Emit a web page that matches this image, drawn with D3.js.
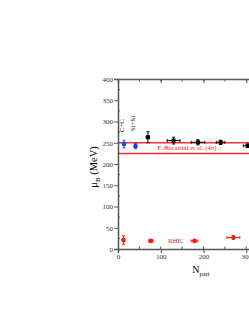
<!DOCTYPE html>
<html><head><meta charset="utf-8">
<script src="https://cdn.jsdelivr.net/npm/d3@7"></script>
<style>body{margin:0;background:#fff;}svg{display:block;}</style>
</head><body>
<svg id="c" width="249" height="323"></svg>
<script>
// Data
const blackN   = [70, 130, 187, 240, 303];
const blackMu  = [263, 255, 251, 251, 243];
const blackYe  = [13, 8, 6, 5, 4];
const blackXe  = [4, 15, 16, 10, 10];

const blueN    = [14, 41];
const blueMu   = [247, 242];
const blueYe   = [9, 6];

const rhicN    = [13, 77, 179, 270];
const rhicMu   = [21, 19, 19, 27];
const rhicYe   = [10, 3, 3, 4];
const rhicXe   = [2, 5, 8, 15];

const bandLevels = [250, 225];
const xTicks = [0, 100, 200, 300, 400];
const yTicks = [0, 50, 100, 150, 200, 250, 300, 350, 400];

const svg = d3.select("#c");
const x = d3.scaleLinear().domain([0, 400]).range([118, 289]);
const y = d3.scaleLinear().domain([0, 400]).range([249, 79]);
const axisCol = "#555";
const font = "Liberation Serif, Times New Roman, serif";

// band lines
svg.selectAll("line.band").data(bandLevels).enter().append("line")
  .attr("x1", x(0)).attr("x2", x(400))
  .attr("y1", d => y(d)).attr("y2", d => y(d))
  .attr("stroke", "#ff2a2a").attr("stroke-width", 1.5);

// axes
const gL = svg.append("g").attr("transform", `translate(${x(0)},0)`)
  .call(d3.axisLeft(y).tickValues(yTicks).tickSize(4).tickPadding(1));
const gB = svg.append("g").attr("transform", `translate(0,${y(0)})`)
  .call(d3.axisBottom(x).tickValues(xTicks).tickSize(4).tickPadding(1));
const gT = svg.append("g").attr("transform", `translate(0,${y(400)})`)
  .call(d3.axisTop(x).tickValues(xTicks).tickSize(-4).tickFormat(""));
[gL, gB, gT].forEach(g => {
  g.select(".domain").attr("stroke", axisCol).attr("stroke-width", 1.5);
  g.selectAll(".tick line").attr("stroke", axisCol);
  g.selectAll("text").attr("font-family", font).attr("font-size", 7).attr("fill", "#333");
});
// minor ticks inward
const minY = d3.range(25, 400, 50);
svg.selectAll("line.my").data(minY).enter().append("line")
  .attr("x1", x(0)).attr("x2", x(0) + 2).attr("y1", d => y(d)).attr("y2", d => y(d))
  .attr("stroke", axisCol);
const minX = d3.range(50, 400, 50);
svg.selectAll("line.mx").data(minX).enter().append("line")
  .attr("x1", d => x(d)).attr("x2", d => x(d)).attr("y1", y(0)).attr("y2", y(0) - 2.5)
  .attr("stroke", axisCol);
svg.selectAll("line.mt").data(minX).enter().append("line")
  .attr("x1", d => x(d)).attr("x2", d => x(d)).attr("y1", y(400)).attr("y2", y(400) + 2.5)
  .attr("stroke", axisCol);

// error bars helper
function errBars(N, Mu, Ye, Xe, col, dash) {
  const data = N.map((n, i) => ({n, m: Mu[i], ye: Ye[i], xe: Xe ? Xe[i] : 0}));
  const g = svg.append("g").attr("stroke", col).attr("stroke-width", 1);
  data.forEach(d => {
    g.append("line").attr("x1", x(d.n)).attr("x2", x(d.n))
      .attr("y1", y(d.m - d.ye)).attr("y2", y(d.m + d.ye)).attr("stroke-dasharray", dash || null);
    g.append("line").attr("x1", x(d.n) - 1.5).attr("x2", x(d.n) + 1.5)
      .attr("y1", y(d.m - d.ye)).attr("y2", y(d.m - d.ye));
    g.append("line").attr("x1", x(d.n) - 1.5).attr("x2", x(d.n) + 1.5)
      .attr("y1", y(d.m + d.ye)).attr("y2", y(d.m + d.ye));
    if (d.xe > 0) {
      g.append("line").attr("x1", x(d.n - d.xe)).attr("x2", x(d.n + d.xe))
        .attr("y1", y(d.m)).attr("y2", y(d.m));
      [d.n - d.xe, d.n + d.xe].forEach(v => g.append("line")
        .attr("x1", x(v)).attr("x2", x(v)).attr("y1", y(d.m) - 1.5).attr("y2", y(d.m) + 1.5));
    }
  });
  return data;
}

const bd = errBars(blackN, blackMu, blackYe, blackXe, "#000");
svg.selectAll("rect.bk").data(bd).enter().append("rect")
  .attr("x", d => x(d.n) - 2).attr("y", d => y(d.m) - 2).attr("width", 4).attr("height", 4)
  .attr("fill", "#000");

const bl = errBars(blueN, blueMu, blueYe, null, "#2244ff");
svg.selectAll("circle.bl").data(bl).enter().append("circle")
  .attr("cx", d => x(d.n)).attr("cy", d => y(d.m)).attr("r", 2.3).attr("fill", "#1a3cff");

const rd = errBars(rhicN, rhicMu, rhicYe, rhicXe, "#ff2020");
svg.selectAll("circle.rd").data(rd).enter().append("circle")
  .attr("cx", d => x(d.n)).attr("cy", d => y(d.m)).attr("r", 2.4).attr("fill", "#ff1a1a");

// annotations
svg.append("text").attr("x", 187).attr("y", 150).attr("text-anchor", "middle")
  .attr("font-family", font).attr("font-size", 6.8).attr("fill", "#ff2020")
  .text("F. Becattini et al. (4π)");
svg.append("text").attr("x", 176).attr("y", 243).attr("text-anchor", "middle")
  .attr("font-family", font).attr("font-size", 6.8).attr("fill", "#ff2020").text("RHIC");
svg.append("text").attr("transform", "translate(124,132) rotate(-90)")
  .attr("font-family", font).attr("font-size", 6.8).attr("fill", "#000").text("C+C");
svg.append("text").attr("transform", "translate(135,131) rotate(-90)")
  .attr("font-family", font).attr("font-size", 6.8).attr("fill", "#000").text("Si+Si");

// axis titles
const yl = svg.append("text").attr("transform", "translate(97,167) rotate(-90)")
  .attr("text-anchor", "middle").attr("font-family", font).attr("font-size", 10.5).attr("fill", "#000");
yl.append("tspan").text("μ");
yl.append("tspan").attr("font-size", 7).attr("dy", 2.5).text("B");
yl.append("tspan").attr("dy", -2.5).text(" (MeV)");

const xl = svg.append("text").attr("x", 201).attr("y", 273)
  .attr("text-anchor", "middle").attr("font-family", font).attr("font-size", 10).attr("fill", "#000");
xl.append("tspan").text("N");
xl.append("tspan").attr("font-size", 6.5).attr("dy", 3).text("part");
</script>
</body></html>
